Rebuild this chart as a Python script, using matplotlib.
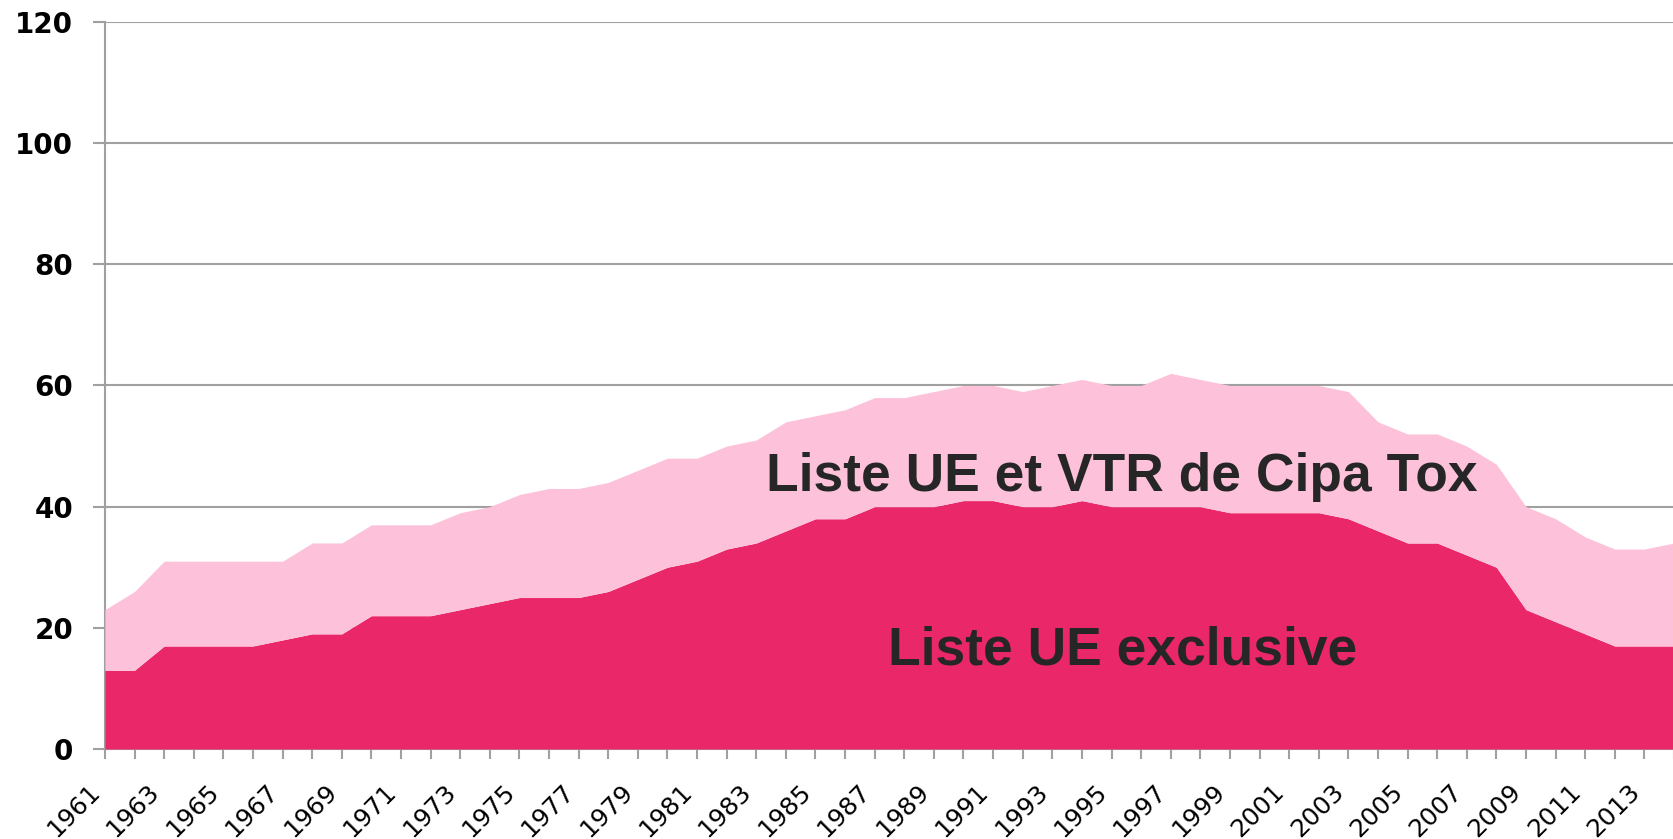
import matplotlib.pyplot as plt
import matplotlib.transforms as mtransforms
import numpy as np

# years on the category axis
years = list(range(1961, 2015))

# EU list only (bottom layer)
eu_exclusive = [13, 13, 17, 17, 17, 17, 18, 19, 19, 22,
                22, 22, 23, 24, 25, 25, 25, 26, 28, 30,
                31, 33, 34, 36, 38, 38, 40, 40, 40, 41,
                41, 40, 40, 41, 40, 40, 40, 40, 39, 39,
                39, 39, 38, 36, 34, 34, 32, 30, 23, 21,
                19, 17, 17, 17]

# EU list + Cipa Tox VTR (total height of the stack)
eu_and_vtr = [23, 26, 31, 31, 31, 31, 31, 34, 34, 37,
              37, 37, 39, 40, 42, 43, 43, 44, 46, 48,
              48, 50, 51, 54, 55, 56, 58, 58, 59, 60,
              60, 59, 60, 61, 60, 60, 62, 61, 60, 60,
              60, 60, 59, 54, 52, 52, 50, 47, 40, 38,
              35, 33, 33, 34]

label_top = "Liste UE et VTR de Cipa Tox"
label_bottom = "Liste UE exclusive"

dark_pink = "#EA2869"
light_pink = "#FDC2DA"
grid_grey = "#A0A0A0"

fig = plt.figure(figsize=(16.74, 8.39), dpi=100)
ax = fig.add_axes([0.0627, 0.1073, 0.9373, 0.8665])

x = np.array(years)
lower = np.array(eu_exclusive)
upper = np.array(eu_and_vtr)
ax.fill_between(x, 0, lower, color=dark_pink, lw=0, zorder=3)
ax.fill_between(x, lower, upper, color=light_pink, lw=0, zorder=3)

ax.set_xlim(1961, 2013.54)
ax.set_ylim(0, 120)
ax.set_yticks(range(0, 121, 20))
ax.yaxis.grid(True, color=grid_grey, lw=1.5)
ax.set_axisbelow(True)

ax.set_xticks(years)
ax.set_xticklabels([str(y) if (y - 1961) % 2 == 0 else "" for y in years],
                   rotation=45, ha="right", fontsize=18, family="DejaVu Sans")
# nudge the rotated year labels a bit to the right, like the original
shift = mtransforms.ScaledTranslation(6 / 100, 0, fig.dpi_scale_trans)
for lab in ax.get_xticklabels():
    lab.set_transform(lab.get_transform() + shift)
for lab in ax.get_yticklabels():
    lab.set_fontweight("bold")
    lab.set_fontsize(20)

ax.tick_params(axis="y", length=9, width=1.5, color=grid_grey, pad=14)
ax.tick_params(axis="x", length=7, width=1.5, color=grid_grey, pad=15)

for side in ["top", "right"]:
    ax.spines[side].set_visible(False)
for side in ["left", "bottom"]:
    ax.spines[side].set_color(grid_grey)
    ax.spines[side].set_linewidth(1.5)

ax.text(1995.36, 42.6, label_top, ha="center", va="baseline", fontsize=38.4,
        fontweight="bold", family="Liberation Sans", color="#262626", zorder=5)
ax.text(1995.36, 14.0, label_bottom, ha="center", va="baseline", fontsize=38.4,
        fontweight="bold", family="Liberation Sans", color="#262626", zorder=5)

fig.savefig("out.png", dpi=100)
